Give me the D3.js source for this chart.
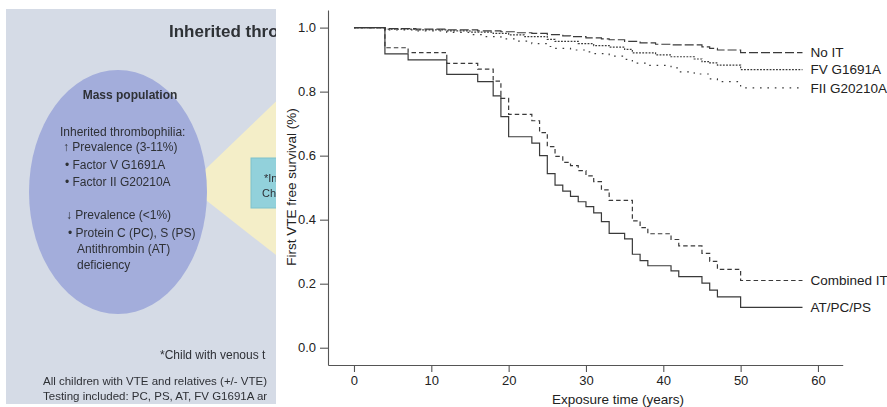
<!DOCTYPE html>
<html>
<head>
<meta charset="utf-8">
<script src="https://cdn.jsdelivr.net/npm/d3@7"></script>
<style>
  html, body { margin: 0; padding: 0; background: #fff; }
  svg { display: block; font-family: "Liberation Sans", Arial, Helvetica, sans-serif; }
</style>
</head>
<body>
<div id="chart"></div>
<script>
// Kaplan-Meier estimates: first VTE-free survival by thrombophilia group
const seriesNames = ["No IT", "FV G1691A", "FII G20210A", "Combined IT", "AT/PC/PS"];

const noItTimes = [0, 4, 8, 12, 16, 19, 21, 23, 25, 27, 28, 30, 32, 33, 35, 37, 39, 41, 45, 46, 47, 50, 58];
const noItSurv  = [1.0, 0.997, 0.995, 0.993, 0.990, 0.987, 0.984, 0.982, 0.978, 0.974, 0.972, 0.968, 0.965, 0.962, 0.957, 0.952, 0.948, 0.946, 0.940, 0.935, 0.930, 0.922, 0.922];

const fvTimes = [0, 4, 8, 12, 15, 18, 20, 22, 25, 26, 29, 31, 33, 35, 36, 39, 41, 44, 45, 46, 47, 50, 58];
const fvSurv  = [1.0, 0.995, 0.993, 0.990, 0.986, 0.982, 0.977, 0.972, 0.963, 0.957, 0.950, 0.944, 0.939, 0.932, 0.921, 0.915, 0.909, 0.902, 0.894, 0.890, 0.883, 0.869, 0.869];

const fiiTimes = [0, 4, 8, 12, 15, 17, 19, 21, 23, 25, 26, 28, 30, 31, 33, 35, 36, 38, 41, 42, 44, 46, 47, 50, 58];
const fiiSurv  = [1.0, 0.993, 0.990, 0.985, 0.978, 0.972, 0.965, 0.958, 0.950, 0.941, 0.935, 0.930, 0.924, 0.919, 0.911, 0.901, 0.889, 0.882, 0.874, 0.862, 0.855, 0.840, 0.831, 0.812, 0.812];

const combinedTimes = [0, 4, 7, 12, 16, 18, 19, 20, 23, 24, 25, 26, 27, 28, 29, 30, 31, 32, 33, 36, 37, 38, 41, 42, 45, 46, 47, 50, 58];
const combinedSurv  = [1.0, 0.937, 0.922, 0.888, 0.870, 0.833, 0.779, 0.729, 0.709, 0.672, 0.628, 0.598, 0.579, 0.569, 0.553, 0.537, 0.519, 0.493, 0.460, 0.396, 0.375, 0.356, 0.338, 0.318, 0.295, 0.270, 0.245, 0.210, 0.210];

const atTimes = [0, 4, 7, 12, 16, 18, 19, 20, 23, 24, 25, 26, 27, 28, 29, 30, 31, 32, 33, 35, 36, 37, 38, 41, 42, 45, 46, 47, 50, 58];
const atSurv  = [1.0, 0.918, 0.899, 0.854, 0.831, 0.787, 0.722, 0.659, 0.639, 0.600, 0.544, 0.508, 0.489, 0.473, 0.456, 0.441, 0.421, 0.394, 0.357, 0.340, 0.292, 0.272, 0.256, 0.240, 0.222, 0.202, 0.180, 0.159, 0.126, 0.126];

const xTicks = [0, 10, 20, 30, 40, 50, 60];
const yTicks = [0.0, 0.2, 0.4, 0.6, 0.8, 1.0];

const W = 887, H = 407;
const svg = d3.select("#chart").append("svg").attr("width", W).attr("height", H);

// ---------- presentation slide panel on the left ----------
const slideBox = { x: 6, y: 9, w: 270, h: 395 };
const defs = svg.append("defs");
defs.append("clipPath").attr("id", "slideClip")
  .append("rect").attr("x", slideBox.x).attr("y", slideBox.y).attr("width", slideBox.w).attr("height", slideBox.h);
defs.append("filter").attr("id", "soft")
  .append("feGaussianBlur").attr("stdDeviation", 0.45);

const slide = svg.append("g").attr("clip-path", "url(#slideClip)").attr("filter", "url(#soft)");
slide.append("rect").attr("x", slideBox.x).attr("y", slideBox.y).attr("width", slideBox.w).attr("height", slideBox.h).attr("fill", "#d5dbe6");
slide.append("polygon").attr("points", "188,186 290,88 290,266").attr("fill", "#f4eec8");
slide.append("ellipse").attr("cx", 118).attr("cy", 192).attr("rx", 89).attr("ry", 122).attr("fill", "#a3addb");
slide.append("rect").attr("x", 251).attr("y", 158).attr("width", 40).attr("height", 50)
  .attr("fill", "#92d1db").attr("stroke", "#7fc2cc").attr("stroke-width", 1);

const slideText = [
  { t: "Inherited thro", x: 169, y: 37, s: 17, w: "bold" },
  { t: "Mass population", x: 130, y: 99, s: 12, w: "bold", a: "middle" },
  { t: "Inherited thrombophilia:", x: 60, y: 136, s: 12, w: "normal" },
  { t: "\u2191 Prevalence (3-11%)", x: 63, y: 151, s: 12, w: "normal" },
  { t: "\u2022 Factor V G1691A", x: 65, y: 169, s: 12, w: "normal" },
  { t: "\u2022 Factor II G20210A", x: 65, y: 186, s: 12, w: "normal" },
  { t: "\u2193 Prevalence (<1%)", x: 66, y: 219, s: 12, w: "normal" },
  { t: "\u2022 Protein C (PC), S (PS)", x: 68, y: 237, s: 12, w: "normal" },
  { t: "Antithrombin (AT)", x: 77, y: 253, s: 12, w: "normal" },
  { t: "deficiency", x: 77, y: 269, s: 12, w: "normal" },
  { t: "*Child with venous t", x: 160, y: 359, s: 12, w: "normal" },
  { t: "All children with VTE and relatives (+/- VTE)", x: 43, y: 385, s: 11.5, w: "normal" },
  { t: "Testing included: PC, PS, AT, FV G1691A ar", x: 43, y: 400, s: 11.5, w: "normal" },
  { t: "*In", x: 264, y: 182, s: 11, w: "normal" },
  { t: "Ch", x: 262, y: 197, s: 11, w: "normal" }
];
slide.selectAll("text.slide").data(slideText).join("text")
  .attr("class", "slide")
  .attr("x", d => d.x).attr("y", d => d.y)
  .attr("font-size", d => d.s).attr("font-weight", d => d.w)
  .attr("text-anchor", d => d.a || "start")
  .attr("fill", "#2e3036")
  .text(d => d.t);

// ---------- survival plot ----------
svg.append("rect").attr("x", 276).attr("y", 0).attr("width", W - 276).attr("height", H).attr("fill", "#fff");

const x = d3.scaleLinear().domain([-3.36, 63.2]).range([328, 842.7]);
const y = d3.scaleLinear().domain([-0.054, 1.055]).range([365, 10]);

const axisColor = "#555";
const textColor = "#222";

const gx = svg.append("g").attr("transform", `translate(0,${y(-0.054)})`)
  .call(d3.axisBottom(x).tickValues(xTicks).tickFormat(d3.format("d")).tickSize(7).tickPadding(4).tickSizeOuter(0));
const gy = svg.append("g").attr("transform", `translate(${x(-3.36)},0)`)
  .call(d3.axisLeft(y).tickValues(yTicks).tickFormat(d3.format(".1f")).tickSize(8).tickPadding(4).tickSizeOuter(0));

[gx, gy].forEach(g => {
  g.select(".domain").attr("stroke", axisColor).attr("stroke-width", 1.1);
  g.selectAll(".tick line").attr("stroke", axisColor).attr("stroke-width", 1.1);
  g.selectAll(".tick text").attr("fill", textColor).attr("font-size", 13)
    .attr("font-family", "Liberation Sans, Arial, sans-serif");
});

svg.append("text")
  .attr("x", 618).attr("y", 404)
  .attr("text-anchor", "middle").attr("font-size", 13.5).attr("fill", textColor)
  .text("Exposure time (years)");

svg.append("text")
  .attr("transform", "translate(296,187) rotate(-90)")
  .attr("text-anchor", "middle").attr("font-size", 13.5).attr("fill", textColor)
  .text("First VTE free survival (%)");

const series = [
  { name: seriesNames[0], t: noItTimes, s: noItSurv, dash: "9,3" },
  { name: seriesNames[1], t: fvTimes, s: fvSurv, dash: "1.8,1.4" },
  { name: seriesNames[2], t: fiiTimes, s: fiiSurv, dash: "1.6,5.8" },
  { name: seriesNames[3], t: combinedTimes, s: combinedSurv, dash: "4.5,3" },
  { name: seriesNames[4], t: atTimes, s: atSurv, dash: null }
];

const line = d3.line()
  .x(d => x(d[0]))
  .y(d => y(d[1]))
  .curve(d3.curveStepAfter);

const lineColor = "#3a3a3a";
svg.append("g").selectAll("path").data(series).join("path")
  .attr("d", d => line(d.t.map((t, i) => [t, d.s[i]])))
  .attr("fill", "none")
  .attr("stroke", lineColor)
  .attr("stroke-width", 1.2)
  .attr("stroke-dasharray", d => d.dash);

svg.append("g").selectAll("text").data(series).join("text")
  .attr("x", d => x(d.t[d.t.length - 1]) + 8)
  .attr("y", d => y(d.s[d.s.length - 1]))
  .attr("dy", "0.36em")
  .attr("font-size", 13.5)
  .attr("fill", textColor)
  .text(d => d.name);
</script>
</body>
</html>
